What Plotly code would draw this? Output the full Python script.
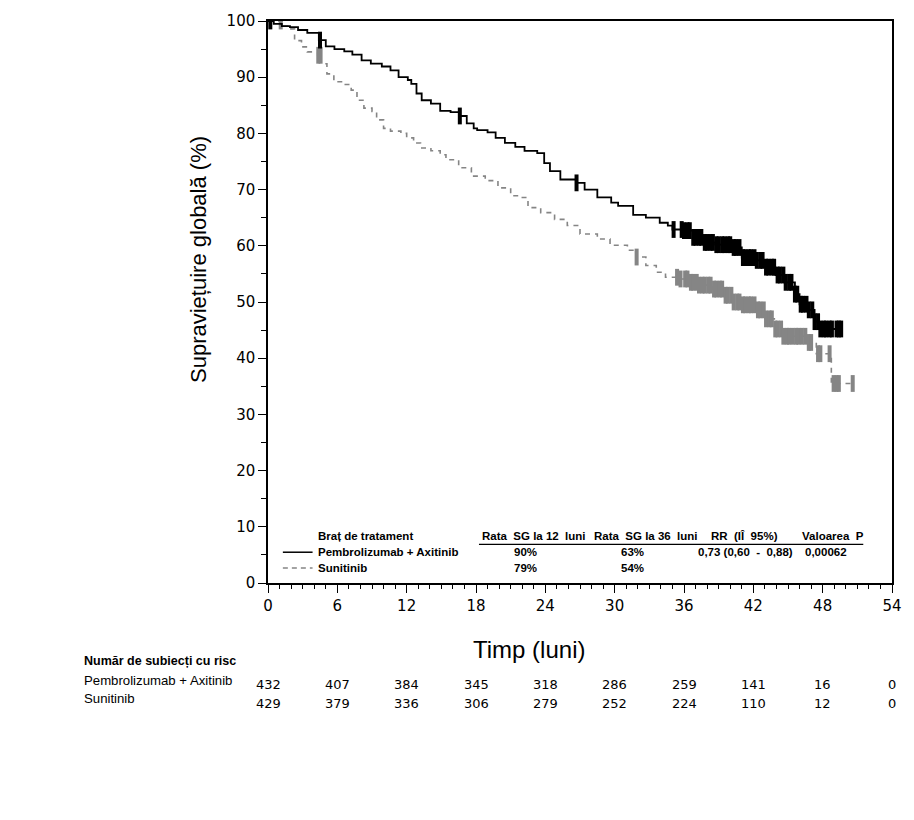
import numpy as np
import plotly.graph_objects as go

# ---------------- data ----------------
x_ticks = [0, 6, 12, 18, 24, 30, 36, 42, 48, 54]

# Pembrolizumab + Axitinib (KM step curve, months / %)
pa_t = [0, 0.5, 1.2, 1.9, 2.6, 3.4, 4.4, 5.0, 5.75, 6.6, 7.3, 8.1, 8.9, 9.85, 10.6, 11.3,
        12.1, 12.4, 12.85, 13.3, 14.1, 14.9, 15.8, 16.6, 17.2, 17.8, 18.1, 19.0, 19.7, 20.5,
        21.4, 22.2, 23.3, 23.9, 24.4, 25.3, 26.7, 27.4, 28.5, 29.7, 30.3, 31.6, 32.7, 33.9,
        34.6, 35.0, 35.9, 36.8, 37.6, 38.7, 40.2, 41.0, 42.2, 43.0, 43.9, 44.7, 45.6, 46.0,
        46.7, 47.3, 47.7, 49.6]
pa_s = [100, 99.5, 99.1, 98.9, 98.4, 97.9, 96.6, 95.5, 95.0, 94.6, 94.0, 93.0, 92.4, 91.9, 91.2, 90.0,
        89.5, 88.8, 87.1, 85.9, 85.3, 84.0, 83.8, 83.1, 81.8, 80.9, 80.6, 80.2, 79.2, 78.3,
        77.6, 76.9, 76.5, 74.7, 73.3, 71.8, 71.2, 70.0, 68.6, 67.7, 67.1, 65.5, 65.0, 64.1,
        63.6, 62.9, 62.7, 61.5, 60.6, 60.2, 59.7, 57.9, 57.4, 56.2, 54.8, 53.5, 51.4, 49.6,
        48.6, 46.5, 45.2, 45.2]

# Sunitinib
su_t = [0, 1.2, 1.7, 2.3, 2.9, 3.4, 4.3, 4.6, 5.1, 5.7, 6.6, 7.2, 7.7, 8.3, 9.0, 9.4, 10.0,
        10.6, 11.5, 12.0, 12.6, 13.2, 14.1, 14.9, 15.4, 16.5, 17.6, 18.8, 19.9, 21.0, 21.9,
        22.5, 23.6, 24.8, 25.9, 27.0, 28.5, 29.6, 31.1, 31.9, 32.7, 33.6, 34.4, 35.6, 36.4,
        37.3, 38.5, 39.6, 40.3, 41.0, 42.2, 43.0, 43.9, 44.6, 46.65, 47.45, 48.75, 50.6]
su_s = [100, 99.1, 98.6, 96.5, 95.4, 94.5, 93.9, 92.4, 90.6, 89.2, 88.7, 87.7, 85.9, 84.5, 83.9, 82.4, 80.9,
        80.4, 80.0, 79.2, 78.3, 77.4, 76.9, 76.2, 75.3, 73.9, 72.4, 71.6, 70.3, 68.9, 68.6,
        66.8, 65.9, 64.7, 63.6, 62.1, 61.2, 60.1, 59.2, 58.0, 56.5, 55.3, 54.4, 54.1, 53.5,
        53.0, 52.3, 51.2, 50.0, 49.5, 48.6, 47.0, 45.2, 43.9, 42.8, 40.8, 35.5, 35.5]

# censoring times
pa_cens = [0.2, 4.5, 16.6, 26.7, 35.1, 35.8, 36.0, 36.3, 36.5, 36.8, 37.0, 37.3, 37.5, 37.8,
           38.0, 38.3, 38.5, 38.8, 39.0, 39.3, 39.5, 39.8, 40.0, 40.3, 40.5, 40.8, 41.1, 41.3,
           41.6, 41.8, 42.1, 42.3, 42.6, 42.8, 43.1, 43.3, 43.6, 43.8, 44.1, 44.3, 44.6, 44.8,
           45.1, 45.3, 45.6, 45.8, 46.1, 46.3, 46.6, 46.8, 47.1, 47.3, 47.6, 47.8, 48.1, 48.3,
           48.6, 48.8, 49.2, 49.4, 49.6]
su_cens = [1.1, 4.35, 4.55, 31.9, 35.4, 35.7, 36.1, 36.3, 36.6, 36.8, 37.1, 37.3, 37.6, 37.8,
           38.1, 38.3, 38.6, 38.8, 39.1, 39.3, 39.6, 39.8, 40.1, 40.3, 40.6, 40.8, 41.1, 41.3,
           41.6, 41.8, 42.1, 42.4, 42.6, 42.9, 43.1, 43.4, 43.6, 43.9, 44.1, 44.4, 44.6, 44.9,
           45.1, 45.4, 45.7, 45.9, 46.2, 46.5, 46.8, 47.0, 47.6, 47.8, 48.6, 48.95, 49.2, 49.4, 50.6]

# numbers at risk
risk_times = [0, 6, 12, 18, 24, 30, 36, 42, 48, 54]
risk_pa = [432, 407, 384, 345, 318, 286, 259, 141, 16, 0]
risk_su = [429, 379, 336, 306, 279, 252, 224, 110, 12, 0]

arm_names = ["Pembrolizumab + Axitinib", "Sunitinib"]
os12 = ["90%", "79%"]
os36 = ["63%", "54%"]
hr_text = "0,73 (0,60 \u00a0- \u00a00,88)"
p_text = "0,00062"
header = ["Braț de tratament", "Rata\u00a0 SG la 12\u00a0 luni", "Rata\u00a0 SG la 36\u00a0 luni",
          "RR\u00a0 (IÎ\u00a0 95%)", "Valoarea\u00a0 P"]


def surv_at(times, surv, t):
    idx = np.searchsorted(np.array(times), t, side="right") - 1
    return [surv[i] for i in idx]


NARROW = "Liberation Sans, Arial, sans-serif"
TICKF = "DejaVu Sans, Verdana, sans-serif"
TITLEF = "Liberation Sans, Arial, sans-serif"
GRAY = "#858585"

fig = go.Figure()
fig.add_trace(go.Scatter(x=su_t, y=su_s, mode="lines", line_shape="hv",
                         line=dict(color=GRAY, width=1.6, dash="5px,5px"), hoverinfo="skip"))
fig.add_trace(go.Scatter(x=su_cens, y=surv_at(su_t, su_s, su_cens), mode="markers",
                         marker=dict(symbol="line-ns", size=12, color=GRAY,
                                     line=dict(color=GRAY, width=4)), hoverinfo="skip"))
fig.add_trace(go.Scatter(x=pa_t, y=pa_s, mode="lines", line_shape="hv",
                         line=dict(color="black", width=1.8), hoverinfo="skip"))
fig.add_trace(go.Scatter(x=pa_cens, y=surv_at(pa_t, pa_s, pa_cens), mode="markers",
                         marker=dict(symbol="line-ns", size=12, color="black",
                                     line=dict(color="black", width=4)), hoverinfo="skip"))

W, H = 914, 820
L, R, T, B = 268, 16, 17, 237
PW, PH = W - L - R, H - T - B


def px(xp):
    return (xp - L) / PW


def py(yp):
    return (H - B - yp) / PH


TF = 11.5
ann = []
# legend table inside plot
hdr_x = [316, 482, 595, 713, 805]
for hx, txt in zip(hdr_x, header):
    ann.append(dict(x=px(hx), y=py(536), xref="paper", yref="paper", text="<b>" + txt + "</b>",
                    showarrow=False, xanchor="left", yanchor="middle",
                    font=dict(family=NARROW, size=TF, color="black")))
row_y = [552, 568]
for i in range(2):
    ann.append(dict(x=px(316), y=py(row_y[i]), xref="paper", yref="paper",
                    text="<b>" + arm_names[i] + "</b>", showarrow=False, xanchor="left",
                    yanchor="middle", font=dict(family=NARROW, size=TF, color="black")))
    ann.append(dict(x=px(528), y=py(row_y[i]), xref="paper", yref="paper",
                    text="<b>" + os12[i] + "</b>", showarrow=False, xanchor="center",
                    yanchor="middle", font=dict(family=NARROW, size=TF, color="black")))
    ann.append(dict(x=px(636), y=py(row_y[i]), xref="paper", yref="paper",
                    text="<b>" + os36[i] + "</b>", showarrow=False, xanchor="center",
                    yanchor="middle", font=dict(family=NARROW, size=TF, color="black")))
ann.append(dict(x=px(700), y=py(552), xref="paper", yref="paper", text="<b>" + hr_text + "</b>",
                showarrow=False, xanchor="left", yanchor="middle",
                font=dict(family=NARROW, size=TF, color="black")))
ann.append(dict(x=px(808), y=py(552), xref="paper", yref="paper", text="<b>" + p_text + "</b>",
                showarrow=False, xanchor="left", yanchor="middle",
                font=dict(family=NARROW, size=TF, color="black")))

# axis titles
ann.append(dict(x=px(198), y=py(257), xref="paper", yref="paper", text="Supraviețuire globală (%)",
                textangle=-90, showarrow=False, xanchor="center", yanchor="middle",
                font=dict(family=TITLEF, size=22, color="black")))
ann.append(dict(x=px(532), y=py(650), xref="paper", yref="paper", text="Timp (luni)",
                showarrow=False, xanchor="center", yanchor="middle",
                font=dict(family=TITLEF, size=24, color="black")))

# numbers at risk
ann.append(dict(x=px(80), y=py(662), xref="paper", yref="paper", text="<b>Număr de subiecți cu risc</b>",
                showarrow=False, xanchor="left", yanchor="middle",
                font=dict(family=NARROW, size=12.5, color="black")))
ann.append(dict(x=px(80), y=py(681), xref="paper", yref="paper", text=arm_names[0],
                showarrow=False, xanchor="left", yanchor="middle",
                font=dict(family=NARROW, size=13.2, color="black")))
ann.append(dict(x=px(80), y=py(699), xref="paper", yref="paper", text=arm_names[1],
                showarrow=False, xanchor="left", yanchor="middle",
                font=dict(family=NARROW, size=13.2, color="black")))
for t, a, b in zip(risk_times, risk_pa, risk_su):
    ann.append(dict(x=t, y=py(685), xref="x", yref="paper", text=str(a), showarrow=False,
                    xanchor="center", yanchor="middle", font=dict(family=TICKF, size=13, color="black")))
    ann.append(dict(x=t, y=py(704), xref="x", yref="paper", text=str(b), showarrow=False,
                    xanchor="center", yanchor="middle", font=dict(family=TICKF, size=13, color="black")))

shapes = [
    dict(type="line", xref="paper", yref="paper", x0=px(283), x1=px(313), y0=py(552), y1=py(552),
         line=dict(color="black", width=1.5)),
    dict(type="line", xref="paper", yref="paper", x0=px(283), x1=px(313), y0=py(568), y1=py(568),
         line=dict(color=GRAY, width=1.5, dash="5px,4px")),
    dict(type="line", xref="paper", yref="paper", x0=px(481), x1=px(869), y0=py(544), y1=py(544),
         line=dict(color="black", width=1.2)),
]

axis_common = dict(showline=True, linecolor="black", linewidth=1.5, mirror=True,
                   ticks="outside", ticklen=8, tickwidth=1.3, tickcolor="black",
                   showgrid=False, zeroline=False,
                   tickfont=dict(family=TICKF, size=15, color="black"))

fig.update_layout(
    width=W, height=H,
    margin=dict(l=L, r=R, t=T, b=B, pad=0),
    paper_bgcolor="white", plot_bgcolor="white",
    showlegend=False,
    xaxis=dict(range=[0, 54], tickvals=x_ticks, **axis_common,
               minor=dict(dtick=1, ticks="outside", ticklen=4, tickcolor="black", tickwidth=1.2, showgrid=False)),
    yaxis=dict(range=[0, 100], dtick=10, **axis_common,
               minor=dict(dtick=5, ticks="outside", ticklen=5, tickcolor="black", tickwidth=1.2, showgrid=False)),
    annotations=ann,
    shapes=shapes,
)

fig.write_html("out.html")
